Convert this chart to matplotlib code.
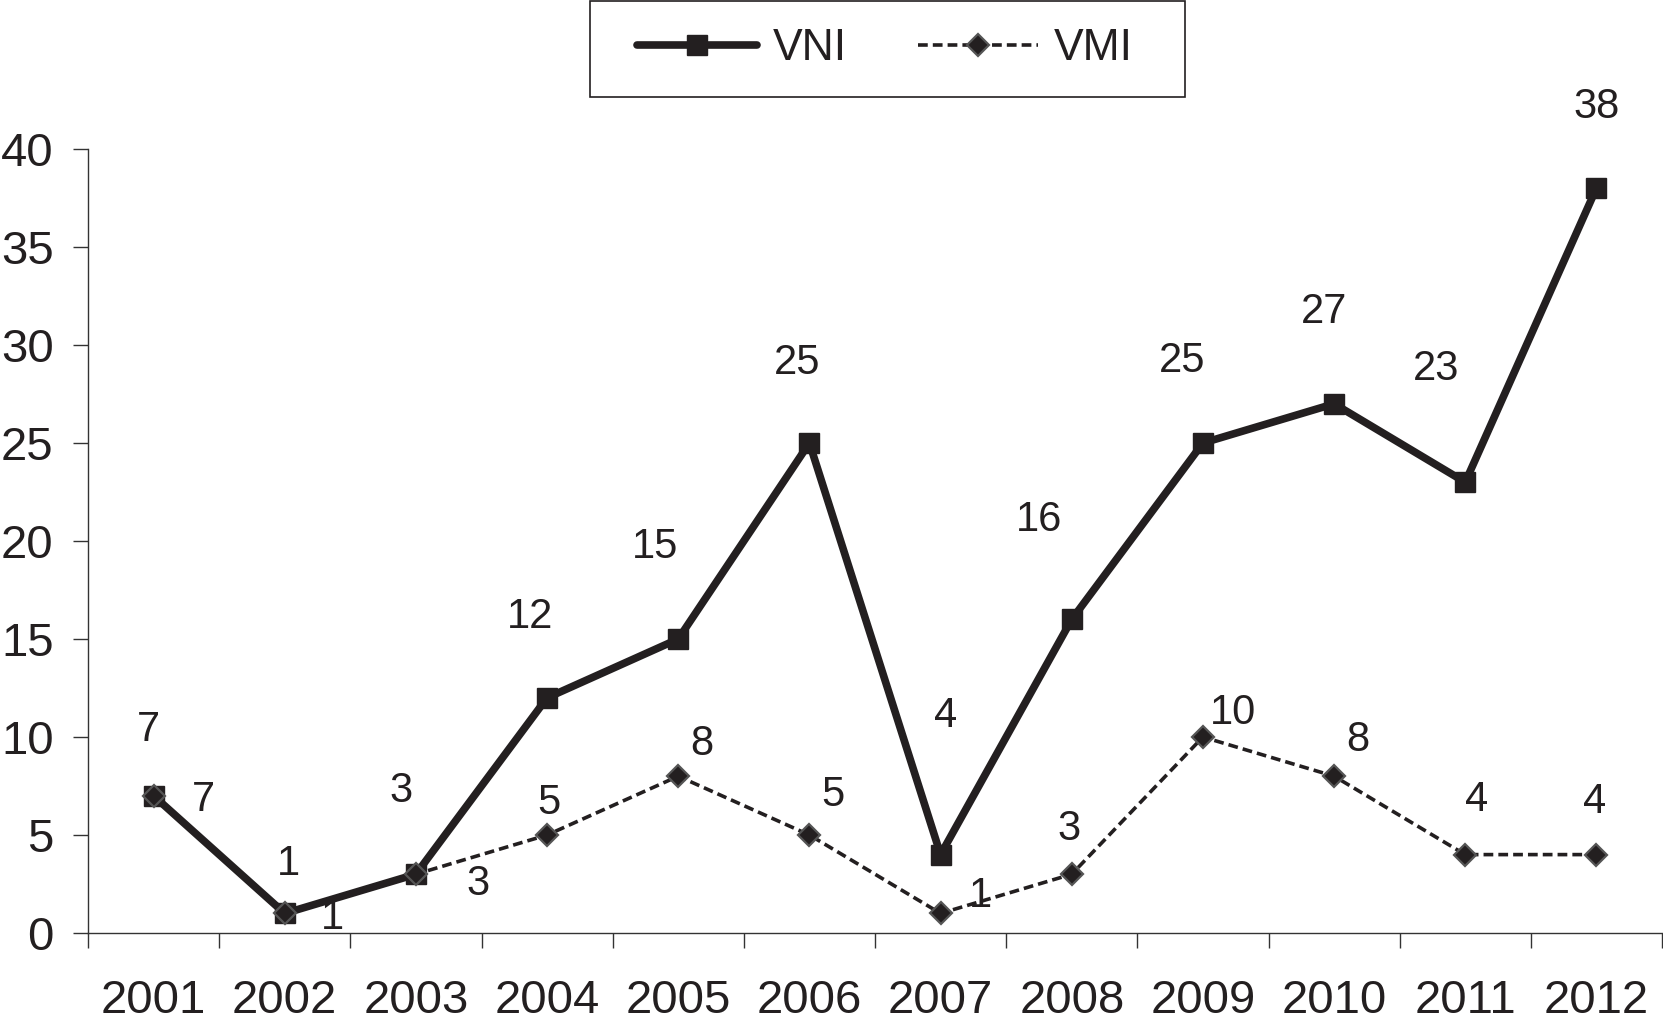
import matplotlib
matplotlib.use("Agg")
import numpy as np
import matplotlib.pyplot as plt
from matplotlib.patches import Rectangle

plt.rcParams['font.family'] = ['Liberation Sans', 'DejaVu Sans']

years = ['2001', '2002', '2003', '2004', '2005', '2006',
         '2007', '2008', '2009', '2010', '2011', '2012']
vni = [7, 1, 3, 12, 15, 25, 4, 16, 25, 27, 23, 38]
vmi = [7, 1, 3, 5, 8, 5, 1, 3, 10, 8, 4, 4]

# hand-placed label offsets (pixels, from the marker)
vni_off = [(-5, 66), (4, 49), (-15, 83), (-17, 81), (-23, 92), (-12, 80),
           (5, 139), (-33, 99), (-21, 82), (-10, 92), (-29, 113), (0, 81)]
vmi_off = [(50, -4), (48, -5), (62, -10), (2, 32), (24, 32), (24, 40),
           (40, 17), (-3, 45), (30, 24), (24, 36), (11, 55), (-2, 53)]

ink = '#231f20'
W, H = 1663, 1035
fig = plt.figure(figsize=(W / 100, H / 100), dpi=100)
ax = fig.add_axes([88 / W, 102 / H, 1574 / W, 784 / H])

x = np.arange(len(years)) + 0.5
ax.plot(x, vni, color=ink, lw=5.5, marker='s', ms=14, mfc=ink, mec=ink,
        solid_capstyle='round', zorder=3, label='VNI')
ax.plot(x, vmi, color=ink, lw=2.6, ls=(0, (2.7, 1.4)), marker='D', ms=11,
        mfc=ink, mec='#555555', mew=1.6, zorder=4, label='VMI')

for xi, v, (dx, dy) in zip(x, vni, vni_off):
    ax.annotate(str(v), (xi, v), xytext=(dx, dy), textcoords='offset pixels',
                ha='center', va='center', fontsize=30, color=ink,
                annotation_clip=False)
for xi, v, (dx, dy) in zip(x, vmi, vmi_off):
    ax.annotate(str(v), (xi, v), xytext=(dx, dy), textcoords='offset pixels',
                ha='center', va='center', fontsize=30, color=ink,
                clip_on=True, zorder=1)

ax.set_xlim(0, 12)
ax.set_ylim(0, 40)
ax.set_yticks(range(0, 41, 5))
ax.set_xticks(np.arange(13))
ax.set_xticklabels([])
ax.set_xticks(x, minor=True)
ax.set_xticklabels(years, minor=True)
ax.tick_params(axis='x', which='major', direction='out', length=10.8, width=1, color='#333333')
ax.tick_params(axis='x', which='minor', length=0, pad=33, labelsize=34, labelcolor=ink)
ax.tick_params(axis='y', direction='out', length=10.8, width=1, color='#333333',
               pad=14, labelsize=34, labelcolor=ink)
for s in ('top', 'right'):
    ax.spines[s].set_visible(False)
for s in ('left', 'bottom'):
    ax.spines[s].set_color('#333333')
    ax.spines[s].set_linewidth(1)

# legend box drawn separately so its padding matches the original
fig.patches.append(Rectangle((590 / W, 1 - 97 / H), 595 / W, 96 / H,
                             transform=fig.transFigure, fill=False,
                             edgecolor=ink, lw=1.2))
leg = fig.legend(loc='center', bbox_to_anchor=(885 / W, 1 - 49 / H), ncol=2,
                 fontsize=32, frameon=False, handlelength=2.7,
                 handletextpad=0.35, columnspacing=1.6, borderpad=0,
                 borderaxespad=0)
for t in leg.get_texts():
    t.set_color(ink)

fig.savefig('out.png', dpi=100)
